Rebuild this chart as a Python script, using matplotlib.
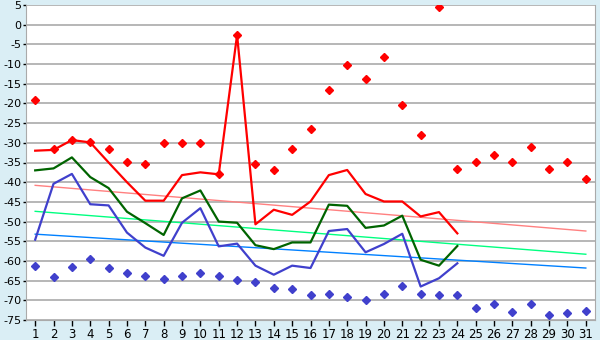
import numpy as np
import matplotlib
matplotlib.use("Agg")
import matplotlib.pyplot as plt

days = list(range(1, 32))
days_line = list(range(1, 25))

red_line = [-32, -31.8, -29.3, -29.9, -35, -40, -44.7, -44.7, -38.2, -37.5, -38, -2.6,
            -50.7, -47, -48.3, -44.9, -38.2, -36.9, -43, -44.9, -44.9, -48.7, -47.6, -53]
green_line = [-37, -36.5, -33.7, -38.7, -41.5, -47.5, -50.4, -53.4, -44.1, -42.1, -50, -50.3,
              -56, -57, -55.3, -55.3, -45.7, -46, -51.6, -51, -48.5, -59.7, -61.2, -56.2]
blue_line = [-54.6, -40.4, -37.9, -45.6, -45.9, -52.8, -56.6, -58.7, -50.3, -46.6, -56.3, -55.6,
             -61.2, -63.5, -61.2, -61.8, -52.4, -51.9, -57.8, -55.7, -53.1, -66.5, -64.4, -60.6]

red_points = [-19.2, -31.6, -29.3, -29.9, -31.6, -34.9, -35.4, -30.1, -30.1, -30.1, -38, -2.6,
              -35.4, -36.9, -31.6, -26.6, -16.7, -10.3, -13.9, -8.3, -20.5, -28.1, 4.4, -36.6,
              -34.9, -33.2, -34.9, -31.1, -36.6, -34.9, -39.3]
blue_points = [-61.2, -64, -61.6, -59.6, -61.8, -63.1, -63.9, -64.6, -63.9, -63.1, -63.7, -64.8,
               -65.4, -66.9, -67.1, -68.7, -68.4, -69.2, -69.9, -68.4, -66.4, -68.4, -68.7, -68.7,
               -72, -71, -73, -71, -73.8, -73.3, -72.7]

trend_days = [1, 31]
trend_red = [-40.8, -52.4]
trend_green = [-47.4, -58.3]
trend_blue = [-53.2, -61.8]

yticks = list(range(-75, 10, 5))

bg = "#DAEEF5"
fig = plt.figure(figsize=(6, 3.4), dpi=100, facecolor=bg)
ax = fig.add_axes([26 / 600, 1 - 320 / 340, (595 - 26) / 600, (320 - 5) / 340])
ax.set_facecolor("white")

for y in yticks:
    ax.axhline(y, color="#AAAAAA", lw=1.2, zorder=1)

ax.plot(trend_days, trend_red, color="#FF8080", lw=1.0, zorder=2)
ax.plot(trend_days, trend_green, color="#00FF80", lw=1.0, zorder=2)
ax.plot(trend_days, trend_blue, color="#0080FF", lw=1.0, zorder=2)

ax.plot(days_line, red_line, color="#FF0000", lw=1.6, zorder=4)
ax.plot(days_line, green_line, color="#006400", lw=1.6, zorder=4)
ax.plot(days_line, blue_line, color="#4040CC", lw=1.6, zorder=4)

ax.plot(days, red_points, ls="none", marker="D", ms=3.8, color="#FF0000", zorder=5)
ax.plot(days, blue_points, ls="none", marker="D", ms=3.8, color="#4040CC", zorder=5)

ax.set_xlim(0.5, 31.5)
ax.set_ylim(-75, 5)
ax.set_xticks(days)
ax.set_yticks(yticks)
ax.set_yticklabels([str(v) for v in yticks])
ax.tick_params(axis="y", length=2.5, width=1, color="black", labelsize=8, pad=1)
ax.tick_params(axis="x", length=4, width=1, color="black", labelsize=8.5, pad=1.5)
for s in ["left", "right", "bottom", "top"]:
    ax.spines[s].set_color("#AAAAAA")
ax.spines["top"].set_visible(False)

fig.savefig("out.png", dpi=100, facecolor=bg)
